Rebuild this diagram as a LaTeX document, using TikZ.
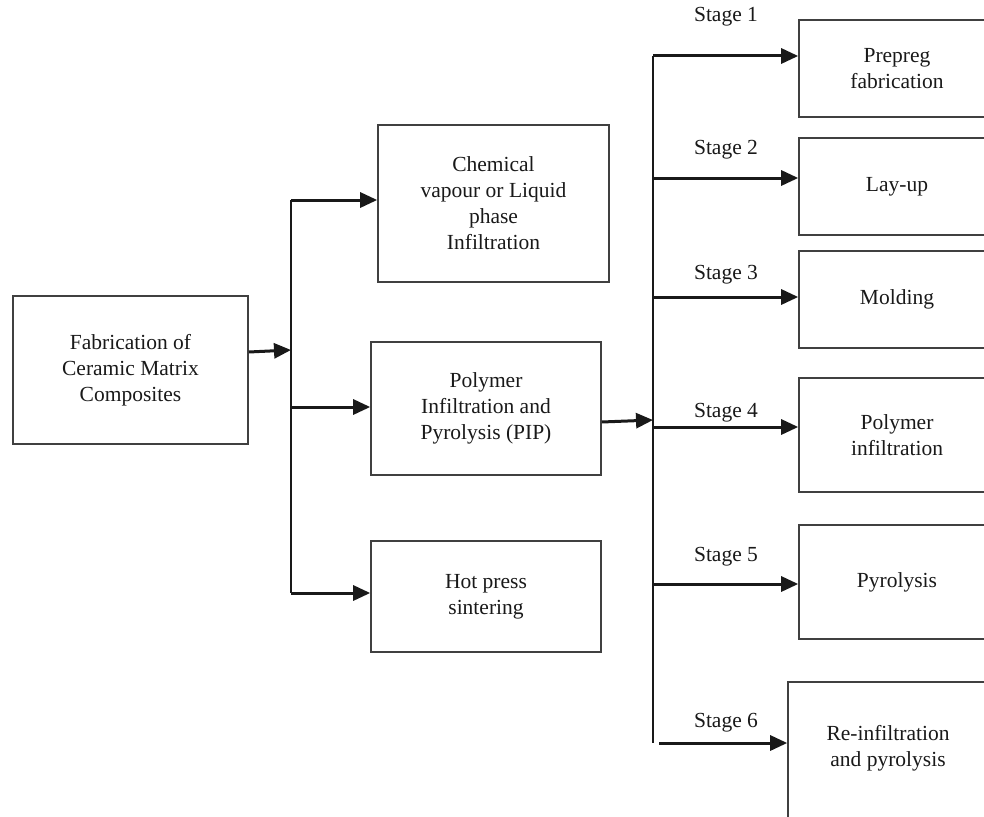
\documentclass[tikz,border=0pt]{standalone}
\usepackage{fontspec}
\setmainfont{Liberation Serif}
\usetikzlibrary{arrows.meta}
\begin{document}
\begin{tikzpicture}[x=1pt,y=-1pt,
  every node/.style={font=\fontsize{21.5}{26}\selectfont, text=black!90},
  procbox/.style={draw=black!75, line width=1.6pt, inner sep=0pt, align=center},
  arr/.style={draw=black!90, line width=3pt, -{Triangle[length=17pt,width=15pt]}},
  trunk/.style={draw=black!90, line width=2pt},
  stagelbl/.style={inner sep=0pt}]
\path[use as bounding box, clip] (0,0) rectangle (984,816);
\fill[white] (0,0) rectangle (984,816);

% left level
\node[procbox, minimum width=235pt, minimum height=148pt] (fab) at (130.5,370) {Fabrication of\\Ceramic Matrix\\Composites};
\node[procbox, minimum width=231pt, minimum height=157pt] (chem) at (493.5,203.5) {Chemical\\vapour or Liquid\\phase\\Infiltration};
\node[procbox, minimum width=230pt, minimum height=133pt] (pip) at (486,408.5) {Polymer\\Infiltration and\\Pyrolysis (PIP)};
\node[procbox, minimum width=230pt, minimum height=111pt] (hot) at (486,596.5) {Hot press\\sintering};

% right level
\node[procbox, minimum width=196pt, minimum height=97pt] (prepreg) at (897,68.5) {Prepreg\\fabrication};
\node[procbox, minimum width=196pt, minimum height=97pt] (layup) at (897,186.5) {Lay-up};
\node[procbox, minimum width=196pt, minimum height=97pt] (molding) at (897,299.5) {Molding};
\node[procbox, minimum width=196pt, minimum height=114pt] (polyinf) at (897,435) {Polymer\\infiltration};
\node[procbox, minimum width=196pt, minimum height=114pt] (pyro) at (897,582) {Pyrolysis};
\node[procbox, minimum width=200pt, minimum height=148pt] (reinf) at (888,756) {};
\node[align=center, inner sep=0pt] (reinftext) at (888,748) {Re-infiltration\\and pyrolysis};

% left trunk
\coordinate (lt) at (291,200);
\coordinate (lm) at (291,350);
\coordinate (lp) at (291,407);
\coordinate (lb) at (291,593);
\draw[trunk] (lt) -- (lb);
\draw[arr] (fab.east |- 0,352) -- (lm);
\draw[arr] (lt) -- (lt -| chem.west);
\draw[arr] (lp) -- (lp -| pip.west);
\draw[arr] (lb) -- (lb -| hot.west);

% right trunk
\coordinate (r1) at (653,56);
\coordinate (r2) at (653,178);
\coordinate (r3) at (653,297);
\coordinate (rin) at (653,420);
\coordinate (r4) at (653,427);
\coordinate (r5) at (653,584);
\coordinate (r6end) at (653,743);
\coordinate (r6) at (659,743);
\draw[trunk] (r1) -- (r6end);
\draw[arr] (pip.east |- 0,422) -- (rin);
\draw[arr] (r1) -- (r1 -| prepreg.west);
\draw[arr] (r2) -- (r2 -| layup.west);
\draw[arr] (r3) -- (r3 -| molding.west);
\draw[arr] (r4) -- (r4 -| polyinf.west);
\draw[arr] (r5) -- (r5 -| pyro.west);
\draw[arr] (r6) -- (r6 -| reinf.west);

% stage labels
\node[stagelbl] (s1) at (726,17) {Stage 1};
\node[stagelbl] (s2) at (726,150) {Stage 2};
\node[stagelbl] (s3) at (726,275) {Stage 3};
\node[stagelbl] (s4) at (726,413) {Stage 4};
\node[stagelbl] (s5) at (726,557) {Stage 5};
\node[stagelbl] (s6) at (726,723) {Stage 6};
\end{tikzpicture}
\end{document}
